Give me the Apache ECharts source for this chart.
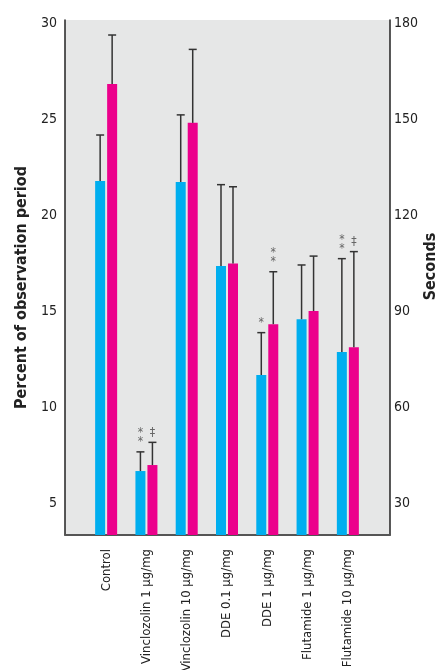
<!DOCTYPE html>
<html>
<head>
<meta charset="utf-8">
<script src="https://cdn.jsdelivr.net/npm/echarts@6/dist/echarts.min.js"></script>
<style>html,body{margin:0;padding:0;background:#fff}#c{width:440px;height:670px}</style>
</head>
<body>
<div id="c"></div>
<script>
const categories = ['Control', 'Vinclozolin 1 µg/mg', 'Vinclozolin 10 µg/mg', 'DDE 0.1 µg/mg', 'DDE 1 µg/mg', 'Flutamide 1 µg/mg', 'Flutamide 10 µg/mg'];
const percentValues = [21.8, 6.67, 21.75, 17.37, 11.68, 14.59, 12.88];
const percentErr = [2.4, 1.0, 3.5, 4.24, 2.21, 2.83, 4.87];
const secondsValues = [161.2, 41.9, 149, 105, 86, 90.1, 78.8];
const secondsErr = [15.3, 7.1, 23, 24, 16.4, 17.2, 29.9];
const percentMarks = ['', '*\n*', '', '', '*', '', '*\n*'];
const secondsMarks = ['', '‡', '', '', '*\n*', '', '‡'];
const leftTicks = [5, 10, 15, 20, 25, 30];
const rightTicks = [30, 60, 90, 120, 150, 180];

const FONT = "'Liberation Sans Narrow', 'DejaVu Sans Condensed', 'Liberation Sans', sans-serif";
const BLUE = '#00aeef', PINK = '#ec008c';
const BAR_W = 10, BAR_GAP = 2;
const LMIN = 10 / 3, LMAX = 30.2, RMIN = 20, RMAX = 181.2;

function errSeries(name, values, errs, marks, yIdx, side) {
  return {
    name: name, type: 'custom', xAxisIndex: 1, yAxisIndex: yIdx, z: 5,
    data: values.map((v, i) => [i, v, v + errs[i], marks[i]]),
    renderItem: function (params, api) {
      const base = api.coord([api.value(0), api.value(1)]);
      const top = api.coord([api.value(0), api.value(2)]);
      const x = base[0] + side * (BAR_W + BAR_GAP) / 2;
      const mark = marks[params.dataIndex];
      const ls = { stroke: '#333', lineWidth: 1.5 };
      const children = [
        { type: 'line', shape: { x1: x, y1: base[1], x2: x, y2: top[1] }, style: ls },
        { type: 'line', shape: { x1: x - 4, y1: top[1], x2: x + 4, y2: top[1] }, style: ls }
      ];
      if (mark) {
        children.push({
          type: 'text',
          style: { text: mark, x: x, y: top[1] - 5, align: 'center', verticalAlign: 'bottom',
            fill: '#666', font: '12px ' + FONT, lineHeight: 9 }
        });
      }
      return { type: 'group', children: children };
    }
  };
}

const chart = echarts.init(document.getElementById('c'));
chart.setOption({
  animation: false,
  grid: [
    { left: 65, right: 50, top: 20, bottom: 135, show: true, backgroundColor: '#e6e7e7', borderWidth: 0, outerBoundsMode: 'none', containLabel: false },
    { left: 86, right: 72, top: 20, bottom: 135, outerBoundsMode: 'none', containLabel: false }
  ],
  xAxis: [
    { type: 'value', gridIndex: 0, min: 0, max: 1, axisLine: { show: true, lineStyle: { color: '#555', width: 2 } },
      axisTick: { show: false }, axisLabel: { show: false }, splitLine: { show: false } },
    { type: 'category', gridIndex: 1, data: categories, axisLine: { show: false }, axisTick: { show: false },
      axisLabel: { rotate: 90, margin: 14, fontSize: 13, color: '#222', fontFamily: FONT, interval: 0 } }
  ],
  yAxis: [
    { type: 'value', gridIndex: 0, position: 'left', min: LMIN, max: LMAX,
      name: 'Percent of observation period', nameLocation: 'middle', nameGap: 32, nameRotate: 90,
      nameTextStyle: { fontSize: 16, fontWeight: 'bold', color: '#222', fontFamily: FONT, padding: [0, 20, 0, 0] },
      axisLine: { show: true, lineStyle: { color: '#222', width: 1.5 } }, axisTick: { show: false },
      splitLine: { show: false },
      axisLabel: { customValues: leftTicks, margin: 8, fontSize: 14, color: '#222', fontFamily: FONT } },
    { type: 'value', gridIndex: 0, position: 'right', min: RMIN, max: RMAX,
      name: 'Seconds', nameLocation: 'middle', nameGap: 33, nameRotate: 90, nameMoveOverlap: false,
      nameTextStyle: { fontSize: 16, fontWeight: 'bold', color: '#222', fontFamily: FONT, padding: [0, 0, 0, 22] },
      axisLine: { show: true, lineStyle: { color: '#222', width: 1.5 } }, axisTick: { show: false },
      splitLine: { show: false },
      axisLabel: { customValues: rightTicks, margin: 4, fontSize: 14, color: '#222', fontFamily: FONT } },
    { type: 'value', gridIndex: 1, min: LMIN, max: LMAX, show: false },
    { type: 'value', gridIndex: 1, min: RMIN, max: RMAX, show: false }
  ],
  series: [
    { name: 'Percent', type: 'bar', xAxisIndex: 1, yAxisIndex: 2, data: percentValues,
      barWidth: BAR_W, barGap: '20%', itemStyle: { color: BLUE } },
    { name: 'Seconds', type: 'bar', xAxisIndex: 1, yAxisIndex: 3, data: secondsValues,
      barWidth: BAR_W, barGap: '20%', itemStyle: { color: PINK } },
    errSeries('Percent SD', percentValues, percentErr, percentMarks, 2, -1),
    errSeries('Seconds SD', secondsValues, secondsErr, secondsMarks, 3, 1)
  ]
});
</script>
</body>
</html>
